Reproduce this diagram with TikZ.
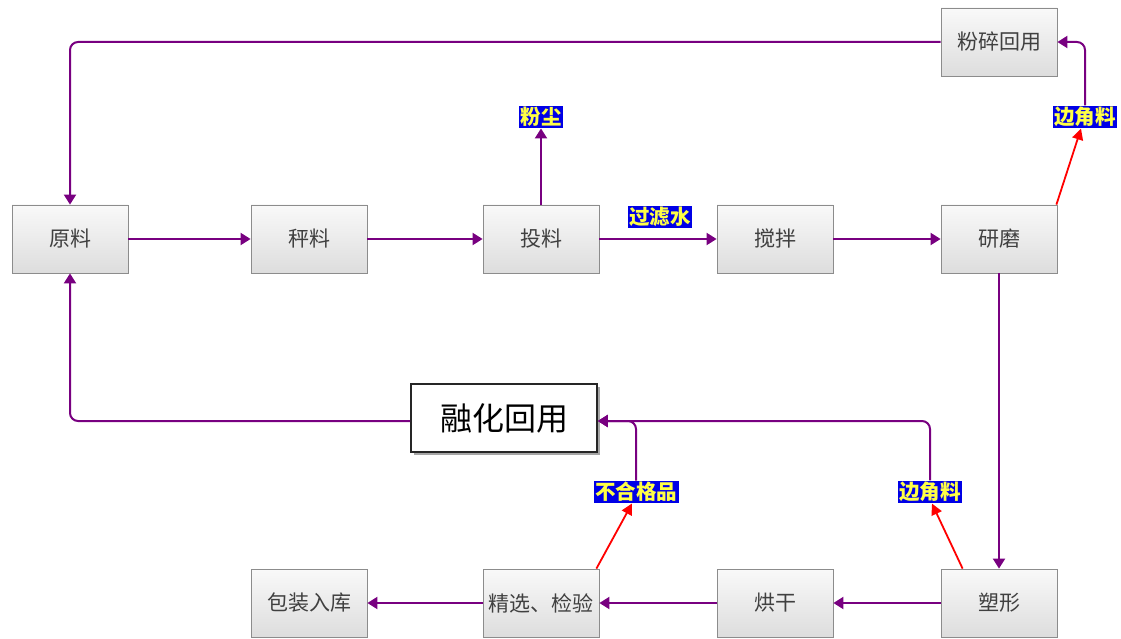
\documentclass[tikz,border=0pt]{standalone}
\usepackage{fontspec}
\usepackage{xcolor}
\usepackage{tikz}
\usetikzlibrary{arrows.meta,positioning,shadows}
\newfontfamily\cjk{Noto Sans CJK SC}
\definecolor{flowline}{RGB}{120,0,128}
\definecolor{boxtop}{RGB}{249,249,249}
\definecolor{boxbot}{RGB}{221,221,221}
\definecolor{boxline}{RGB}{140,140,140}
\definecolor{tagblue}{RGB}{0,0,230}
\definecolor{tagyellow}{RGB}{255,255,70}

\tikzset{
  stepbox/.style={rectangle, draw=boxline, line width=0.8pt, top color=boxtop, bottom color=boxbot,
    minimum width=116pt, minimum height=68pt, text=black!75, font=\cjk\fontsize{21}{24}\selectfont},
  meltbox/.style={rectangle, draw=black!85, line width=1.6pt, fill=white, minimum width=186pt,
    minimum height=68pt, font=\cjk\fontsize{32}{36}\selectfont,
    drop shadow={shadow xshift=2.5pt, shadow yshift=-2.5pt, fill=black!35, opacity=1}},
  tag/.style={rectangle, fill=tagblue, text=tagyellow, inner sep=1.5pt,
    font=\cjk\bfseries\fontsize{20.5}{23}\selectfont},
  pipe/.style={draw=flowline, line width=2pt, rounded corners=8pt, -{Triangle[width=12pt,length=10pt]}},
  scrap/.style={draw=red, line width=1.8pt, -{Triangle[width=11pt,length=11pt]}}
}

\begin{document}
\begin{tikzpicture}[x=1pt, y=-1pt]
\useasboundingbox (0,0) rectangle (1121,639);
% Steps
\node[stepbox] (raw) at (70,239) {原料};
\node[stepbox] (weigh) at (309,239) {秤料};
\node[stepbox] (feed) at (541,239) {投料};
\node[stepbox] (mix) at (775,239) {搅拌};
\node[stepbox] (grind) at (999,239) {研磨};
\node[stepbox] (crush) at (999,42) {粉碎回用};
\node[stepbox] (shape) at (999,603) {塑形};
\node[stepbox] (dry) at (775,603) {烘干};
\node[stepbox] (check) at (541,603) {精选、检验};
\node[stepbox] (pack) at (309,603) {包装入库};

% Tags
\node[tag] (dust) at (541,117) {粉尘};
\node[tag] (water) at (660,217) {过滤水};
\node[tag] (trim1) at (1085,117) {边角料};
\node[tag] (trim2) at (930,492) {边角料};
\node[tag] (reject) at (636,492) {不合格品};

% Lines
\draw[pipe] (crush.west) -| (raw.north);
\draw[pipe] (raw) -- (weigh);
\draw[pipe] (weigh) -- (feed);
\draw[pipe] (feed) -- (mix);
\draw[pipe] (mix) -- (grind);
\draw[pipe] (feed) -- (dust);
\draw[scrap] ([xshift=-1pt]grind.north east) -- ([xshift=-4pt]trim1.south);
\draw[pipe] (trim1.north) |- (crush.east);
\draw[pipe] (grind) -- (shape);
\draw[pipe] (shape) -- (dry);
\draw[pipe] (dry) -- (check);
\draw[pipe] (check) -- (pack);
\draw[scrap] ([xshift=22pt]shape.north west) -- ([xshift=2pt]trim2.south);
\draw[scrap] ([xshift=-3pt]check.north east) -- ([xshift=-4pt]reject.south);

% Melt
\node[meltbox] (melt) at (504,418) {融化回用};
\draw[pipe] (trim2.north) |- ([yshift=-3pt]melt.east);
\draw[pipe] (reject.north) |- ([yshift=-3pt]melt.east);
\draw[pipe] ([yshift=-3pt]melt.west) -| (raw.south);
\end{tikzpicture}
\end{document}
